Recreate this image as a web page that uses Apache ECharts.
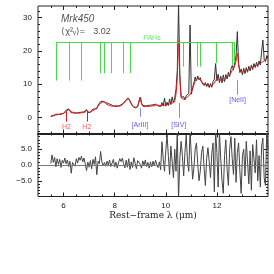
<!DOCTYPE html>
<html><head><meta charset="utf-8">
<script src="https://cdn.jsdelivr.net/npm/echarts@6/dist/echarts.min.js"></script>
<style>html,body{margin:0;padding:0;background:#fff}#c{width:274px;height:274px}</style>
</head><body><div id="c"></div>
<script>
// Rest-frame wavelength grid (micron)
const lam = [
5.50,5.55,5.60,5.65,5.70,5.75,5.80,5.85,5.90,5.95,
6.00,6.05,6.10,6.15,6.20,6.25,6.30,6.35,6.40,6.45,
6.50,6.55,6.60,6.65,6.70,6.75,6.80,6.85,6.90,6.95,
7.00,7.05,7.10,7.15,7.20,7.25,7.30,7.35,7.40,7.45,
7.50,7.55,7.60,7.65,7.70,7.75,7.80,7.85,7.90,7.95,
8.00,8.05,8.10,8.15,8.20,8.25,8.30,8.35,8.40,8.45,
8.50,8.55,8.60,8.65,8.70,8.75,8.80,8.85,8.90,8.95,
9.00,9.05,9.10,9.15,9.20,9.25,9.30,9.35,9.40,9.45,
9.50,9.55,9.60,9.65,9.70,9.75,9.80,9.85,9.90,9.95,
10.00,10.05,10.10,10.15,10.20,10.25,10.30,10.35,10.40,10.45,
10.50,10.55,10.60,10.65,10.70,10.75,10.80,10.85,10.90,10.95,
11.00,11.05,11.10,11.15,11.20,11.25,11.30,11.35,11.40,11.45,
11.50,11.55,11.60,11.65,11.70,11.75,11.80,11.85,11.90,11.95,
12.00,12.05,12.10,12.15,12.20,12.25,12.30,12.35,12.40,12.45,
12.50,12.55,12.60,12.65,12.70,12.75,12.80,12.85,12.90,12.95,
13.00,13.05,13.10,13.15,13.20,13.25,13.30,13.35,13.40,13.45,
13.50,13.55,13.60,13.65,13.70,13.75,13.80,13.85,13.90,13.95,
14.00];
// observed spectrum
const flux = [
0.3,0.9,0.5,1.0,0.8,1.3,0.9,1.2,1.0,1.5,
1.2,1.6,2.2,1.9,2.6,2.2,1.4,1.8,1.4,1.7,
1.3,1.1,1.5,1.2,1.6,1.3,1.7,1.5,2.4,1.6,
1.9,1.5,2.2,1.9,2.6,2.4,2.6,3.7,4.3,4.8,
4.4,4.9,4.3,4.5,3.9,4.2,3.6,3.9,3.3,3.5,
3.2,3.5,3.1,3.5,3.2,3.8,3.6,4.4,4.3,5.3,
5.9,5.7,4.8,4.4,3.4,3.3,2.9,3.3,3.2,4.9,
6.1,4.3,3.6,3.0,3.5,3.1,3.6,3.0,3.7,3.2,
3.8,3.3,4.0,4.3,3.5,3.9,3.3,4.5,3.4,5.8,
3.4,4.6,3.6,5.6,3.9,6.2,4.4,6.0,8.5,14.0,
34.0,13.0,6.0,5.5,6.3,5.3,6.6,6.0,7.2,27.8,
7.0,9.0,10.4,12.2,11.0,12.5,11.3,12.0,10.6,11.2,
9.6,10.5,9.3,10.3,9.0,10.2,9.1,10.8,11.5,16.2,
11.0,13.0,10.5,12.4,10.4,12.8,10.8,12.9,11.6,13.6,
12.3,14.6,15.6,14.4,16.6,18.5,25.8,16.0,13.5,14.6,
12.8,14.8,13.2,15.0,13.6,15.4,14.0,15.8,14.4,16.2,
15.0,16.6,15.3,17.0,15.8,19.8,23.3,17.5,16.8,18.6,
18.2];
// best-fit model
const model = [
0.5,0.6,0.7,0.85,1.0,1.0,1.0,1.05,1.1,1.2,
1.3,1.5,1.8,2.1,2.3,2.1,1.8,1.6,1.5,1.45,
1.4,1.35,1.3,1.35,1.4,1.45,1.5,1.7,2.0,1.8,
1.6,1.75,1.9,2.1,2.3,2.6,3.0,3.4,3.9,4.3,
4.6,4.7,4.5,4.2,3.9,3.75,3.6,3.5,3.45,3.4,
3.35,3.3,3.3,3.35,3.45,3.6,3.85,4.2,4.6,5.2,
5.8,5.6,5.0,4.2,3.6,3.2,3.1,3.1,3.4,4.6,
6.0,4.2,3.4,3.3,3.3,3.3,3.35,3.4,3.4,3.45,
3.5,3.55,3.6,3.8,3.7,3.6,3.6,3.65,3.7,3.8,
3.85,3.9,4.0,4.1,4.2,4.35,4.5,5.0,7.0,12.0,
23.0,12.0,6.5,5.6,5.5,5.6,5.9,6.2,6.5,7.0,
7.6,8.6,9.8,10.8,11.5,11.8,11.7,11.3,10.9,10.5,
10.1,9.9,9.7,9.6,9.5,9.5,9.6,9.9,10.4,11.1,
11.6,11.6,11.4,11.2,11.1,11.2,11.4,11.7,12.1,12.5,
12.9,13.4,14.1,14.8,15.6,17.0,19.3,16.0,14.2,13.7,
13.6,13.8,14.0,14.2,14.4,14.6,14.8,14.95,15.1,15.3,
15.5,15.7,15.9,16.1,16.3,16.55,16.8,17.05,17.3,17.55,
17.8];
// residuals
const resid = [
0.5,3.2,0.8,2.4,-0.6,2.0,0.2,1.8,-0.8,1.5,
0.6,2.2,0.4,1.6,-0.5,1.2,-2.6,0.8,1.4,-0.4,
2.0,0.6,2.4,1.5,2.8,1.0,2.2,0.3,-1.8,0.9,
-0.7,1.4,-1.2,1.8,0.2,2.6,-3.1,1.2,0.4,4.3,
1.0,-0.3,0.8,-0.4,1.2,0.0,1.6,-0.5,0.6,1.8,
-0.6,0.9,-1.0,0.7,2.0,1.1,2.2,0.4,-0.9,1.5,
-0.7,2.0,-1.4,1.0,-0.8,2.3,0.6,-1.2,1.4,2.0,
0.2,-1.0,1.3,0.0,1.6,-0.5,0.8,-1.0,1.0,-0.6,
1.2,-0.3,1.5,0.2,-0.8,1.0,-1.5,7.4,2.0,-2.0,
4.5,9.5,3.0,-3.0,6.0,1.0,-4.0,5.0,-2.0,10.5,
-11,2.0,7.5,3.0,-3.5,4.0,9.5,1.0,-2.0,11,
3.0,-4.5,-1.0,5.0,7.0,0.5,-5.0,-2.0,4.0,6.0,
-1.0,-6.5,2.0,5.5,1.0,-4.0,3.5,7.0,-8.5,11,
4.0,-7.0,10.5,2.0,-5.0,-9.0,3.0,8.0,-1.5,-6.5,
5.0,9.0,2.0,-3.0,8.5,-5.5,4.0,7.0,-2.0,-9.0,
3.0,5.0,-3.5,7.5,1.0,-6.0,4.5,-8.0,6.5,2.0,
-2.5,8.0,-5.0,3.0,-7.0,6.0,8.5,-4.0,-6.5,10.5,
5.0];
// axis ticks
const xMajor = [6,8,10,12];
const xMinor = [5.5,6,6.5,7,7.5,8,8.5,9,9.5,10,10.5,11,11.5,12,12.5,13,13.5];
const yTopMajor = [0,10,20,30];
const yTopMinor = [-4,-2,0,2,4,6,8,10,12,14,16,18,20,22,24,26,28,30,32];
const yBotMajor = [-5,0,5];
const yBotMinor = [-9,-8,-7,-6,-5,-4,-3,-2,-1,0,1,2,3,4,5,6,7,8,9];
// PAH features
const pahX = [5.70,6.22,6.69,7.42,7.60,7.85,8.33,8.61,10.68,11.23,11.33,11.99,12.62,12.69];
const pahBottom = [11.1,11.1,11.1,13.3,13.3,13.3,13.3,13.3,15.3,15.3,15.3,16.4,15.8,16.4];
const pahTop = 22.6;
// emission lines
const lineNames = ['H2','H2','[ArIII]','[SIV]','[NeII]'];
const lineX = [6.11,6.91,8.99,10.51,12.81];
const tickLow = [-1.2,-1.2,0.2,-0.1,6.8];
const tickHigh = [1.8,1.8,2.9,4.4,11.3];
const labelY = [-2.8,-2.8,-2.2,-2.2,5.3];

const GREEN='#44dd44', RED='#ee1111', BLUE='#8888ff', BLUET='#3333ee', AX='#222';
const FONT='Liberation Sans';

function xAx(grid,pos,vals,len,labels){
  return {type:'value',gridIndex:grid,position:pos,min:5,max:14,
    axisLine:{show:false,onZero:false},splitLine:{show:false},
    axisTick:{show:true,inside:true,length:len,customValues:vals,lineStyle:{color:AX,width:1}},
    axisLabel:labels?{show:true,customValues:vals,fontSize:8,margin:5,color:AX,fontFamily:FONT}:{show:false}};
}
function yAx(grid,pos,min,max,vals,len,labels,fmt){
  return {type:'value',gridIndex:grid,position:pos,min:min,max:max,
    axisLine:{show:false,onZero:false},splitLine:{show:false},
    axisTick:{show:true,inside:true,length:len,customValues:vals,lineStyle:{color:AX,width:1}},
    axisLabel:labels?{show:true,customValues:vals,fontSize:8,margin:6,color:AX,fontFamily:FONT,formatter:fmt}:{show:false}};
}
const xAxes=[
  xAx(0,'bottom',xMajor,4,false), xAx(0,'bottom',xMinor,2,false),
  xAx(0,'top',xMajor,4,false), xAx(0,'top',xMinor,2,false),
  xAx(1,'bottom',xMajor,4,true), xAx(1,'bottom',xMinor,2,false),
  xAx(1,'top',xMajor,4,false), xAx(1,'top',xMinor,2,false)
];
xAxes[0].axisLine={show:true,onZero:false,lineStyle:{color:AX,width:2}};
xAxes[4].name='Rest\u2212frame \u03bb (\u03bcm)';
xAxes[4].nameLocation='middle'; xAxes[4].nameGap=15;
xAxes[4].nameTextStyle={fontSize:9,fontFamily:'DejaVu Serif',color:AX};
const fmtTop=v=>String(v);
const fmtBot=v=>(v<0?'\u2212':'')+Math.abs(v).toFixed(1);
const yAxes=[
  yAx(0,'left',-4.8,33.5,yTopMajor,4,true,fmtTop), yAx(0,'left',-4.8,33.5,yTopMinor,2,false),
  yAx(0,'right',-4.8,33.5,yTopMajor,4,false), yAx(0,'right',-4.8,33.5,yTopMinor,2,false),
  yAx(1,'left',-10,10,yBotMajor,4,true,fmtBot), yAx(1,'left',-10,10,yBotMinor,2,false),
  yAx(1,'right',-10,10,yBotMajor,4,false), yAx(1,'right',-10,10,yBotMinor,2,false)
];

const pahLines=[[{coord:[pahX[0],pahTop]},{coord:[pahX[pahX.length-1],pahTop]}]];
pahX.forEach((x,i)=>pahLines.push([{coord:[x,pahTop]},{coord:[x,pahBottom[i]]}]));
const emLines=lineX.map((x,i)=>[{coord:[x,tickLow[i]],lineStyle:{color:lineNames[i]==='H2'?RED:BLUE}},{coord:[x,tickHigh[i]]}]);
const emLabels=lineX.map((x,i)=>({value:[x,labelY[i]],t:lineNames[i],label:{color:lineNames[i]==='H2'?'#ff3333':BLUET}}));

function txt(data,style){
  return {type:'scatter',xAxisIndex:0,yAxisIndex:0,symbolSize:0,silent:true,data:data,
    label:Object.assign({show:true,fontFamily:FONT,formatter:p=>p.data.t},style)};
}

const option={
  animation:false,
  grid:[
    {left:38,right:6,top:6,height:127.5,show:true,borderColor:AX,borderWidth:1,backgroundColor:'transparent'},
    {left:38,right:6,top:133.5,height:63,show:true,borderColor:AX,borderWidth:1,backgroundColor:'transparent'}
  ],
  xAxis:xAxes, yAxis:yAxes,
  series:[
    {type:'line',xAxisIndex:0,yAxisIndex:0,data:[],silent:true,
      markLine:{silent:true,symbol:['none','none'],label:{show:false},lineStyle:{color:GREEN,width:1,type:'solid'},data:pahLines}},
    {type:'line',xAxisIndex:0,yAxisIndex:0,data:[],silent:true,
      markLine:{silent:true,symbol:['none','none'],label:{show:false},lineStyle:{width:1,type:'solid'},data:emLines}},
    {type:'line',xAxisIndex:0,yAxisIndex:0,data:lam.map((x,i)=>[x,flux[i]]),showSymbol:false,clip:true,
      lineStyle:{color:'#333',width:1},silent:true},
    {type:'line',xAxisIndex:0,yAxisIndex:0,data:lam.map((x,i)=>[x,model[i]]),showSymbol:false,clip:true,smooth:0.3,
      lineStyle:{color:RED,width:1},silent:true},
    {type:'line',xAxisIndex:4,yAxisIndex:4,data:lam.map((x,i)=>[x,resid[i]]),showSymbol:false,clip:true,
      lineStyle:{color:'#444',width:1},silent:true,
      markLine:{silent:true,symbol:['none','none'],label:{show:false},lineStyle:{color:'#777',width:1,type:'solid'},data:[{yAxis:0}]}},
    txt(emLabels,{fontSize:7,position:'inside'}),
    txt([{value:[5.90,29.6],t:'Mrk450'}],{fontSize:10,fontStyle:'italic',position:'right',distance:0,color:'#222'}),
    txt([{value:[5.91,25.7],t:'\u27e8\u03c7\u00b2\u1d65\u27e9='}],{fontSize:9,position:'right',distance:0,color:'#222'}),
    txt([{value:[7.16,25.7],t:'3.02'}],{fontSize:9,position:'right',distance:0,color:'#222'}),
    txt([{value:[9.46,23.9],t:'PAHs'}],{fontSize:7,position:'inside',color:GREEN})
  ]
};
echarts.init(document.getElementById('c'),null,{renderer:'canvas'}).setOption(option);
</script></body></html>
